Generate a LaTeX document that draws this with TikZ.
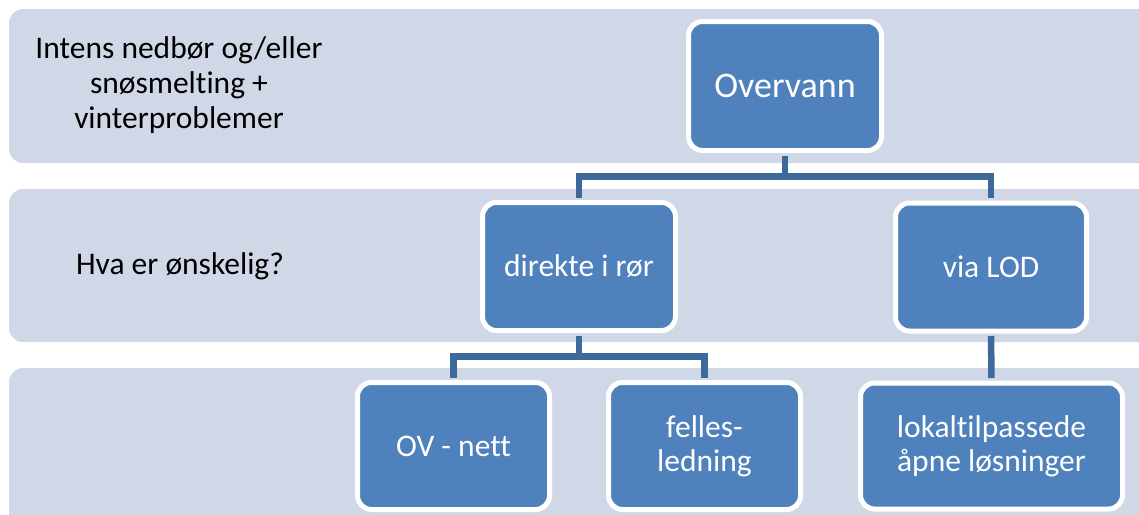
\documentclass[tikz,border=0pt]{standalone}
\usepackage{fontspec}
\setmainfont{Carlito}[RawFeature={-liga;-clig;-calt}]
\usepackage{tikz}
\usetikzlibrary{positioning}
\definecolor{bandfill}{RGB}{208,216,232}
\definecolor{boxfill}{RGB}{79,129,189}
\definecolor{linkcol}{RGB}{62,106,155}

\begin{document}
\begin{tikzpicture}[x=1pt,y=-1pt,
    band/.style={fill=bandfill,rounded corners=14pt},
    box node/.style={rectangle,rounded corners=14pt,draw=white,line width=5pt,fill=boxfill,
      text=white,align=center,font=\fontsize{31.5}{34}\selectfont,minimum width=193pt,minimum height=128pt,inner sep=4pt},
    side node/.style={align=center,text=black,font=\fontsize{31.5}{35}\selectfont},
    link/.style={draw=linkcol,line width=6.5pt,shorten <=2.5pt,shorten >=2.5pt}]
   \useasboundingbox (0,0) rectangle (1139,514);
   % the three rows
   \fill[band] (9,9) rectangle (1175,163);
   \fill[band] (9,189) rectangle (1175,342);
   \fill[band] (9,368) rectangle (1175,540);
   \node[side node] (rowa) at (179,85) {Intens nedbør og/eller\\snøsmelting +\\vinterproblemer};
   \node[side node] (rowb) at (180,266) {Hva er ønskelig?};
   % the tree
   \node[box node,minimum height=129pt,font=\fontsize{36}{40}\selectfont] (over) at (785,86) {Overvann};
   \node[box node] (dir) at (579,266.5) {direkte i rør};
   \node[box node,minimum width=191pt] (lod) at (991,267) {via LOD};
   \node[box node,minimum width=192pt,minimum height=127pt] (ovnett) at (453.5,446) {OV - nett};
   \node[box node,minimum width=192pt,minimum height=127pt] (felles) at (704.5,446) {felles-\\ledning};
   \node[box node,minimum width=262pt,minimum height=126pt] (lokal) at (991.5,446) {lokaltilpassede\\åpne løsninger};
   \draw[link] (over.south) -- ++(0,23.5) -| (dir.north);
   \draw[link] (over.south) -- ++(0,23.5) -| (lod.north);
   \draw[link] (dir.south) -- ++(0,23.5) -| (ovnett.north);
   \draw[link] (dir.south) -- ++(0,23.5) -| (felles.north);
   \draw[link] (lod.south) -- (lokal.north);
  \end{tikzpicture}
\end{document}
